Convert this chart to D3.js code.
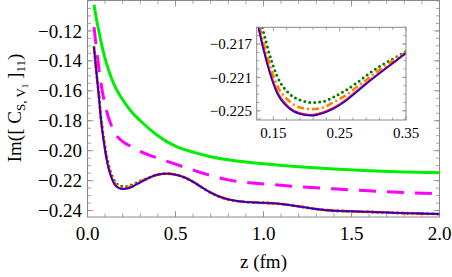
<!DOCTYPE html>
<html>
<head>
<meta charset="utf-8">
<script src="https://cdnjs.cloudflare.com/ajax/libs/d3/7.8.5/d3.min.js"></script>
<style>
  body { margin: 0; background: #fff; }
</style>
</head>
<body>
<div id="chart"></div>
<script>
// Data

// bright green solid curve
var zGreen = [0.037, 0.05, 0.065, 0.08, 0.1, 0.125, 0.15, 0.2, 0.25, 0.3, 0.4, 0.5, 0.6, 0.7, 0.8, 0.9, 1.0, 1.2, 1.4, 1.6, 1.8, 2.0];
var vGreen = [-0.1025, -0.1115, -0.1205, -0.1290, -0.1385, -0.1480, -0.1555, -0.1660, -0.1740, -0.1800, -0.1900, -0.1970, -0.2010, -0.2040, -0.2060, -0.2075, -0.2088, -0.2107, -0.2122, -0.2134, -0.2142, -0.2148];

// magenta dashed curve
var zMagenta = [0.037, 0.05, 0.065, 0.08, 0.1, 0.13, 0.16, 0.2, 0.25, 0.3, 0.4, 0.5, 0.6, 0.7, 0.8, 0.9, 1.0, 1.2, 1.4, 1.6, 1.8, 2.0];
var vMagenta = [-0.1175, -0.1310, -0.1455, -0.1575, -0.1695, -0.1815, -0.1890, -0.1940, -0.1972, -0.2005, -0.2050, -0.2090, -0.2130, -0.2166, -0.2195, -0.2212, -0.2222, -0.2240, -0.2255, -0.2268, -0.2279, -0.2288];

// the four nearly coincident curves share one z grid
var zGrid = [0.037, 0.045, 0.055, 0.065, 0.075, 0.085, 0.095, 0.105, 0.115, 0.1274, 0.14, 0.155, 0.175, 0.19, 0.2075, 0.225, 0.24, 0.26, 0.275, 0.29, 0.31, 0.33, 0.35,
             0.4, 0.45, 0.5, 0.55, 0.6, 0.65, 0.7, 0.75, 0.8, 0.85, 0.9, 1.0, 1.1, 1.2, 1.3, 1.4, 1.5, 1.6, 1.7, 1.8, 1.9, 2.0];
var tail = [-0.2160, -0.2153, -0.2160, -0.2178, -0.2208, -0.2245, -0.2280, -0.2307, -0.2325, -0.2336, -0.2343, -0.2348, -0.2356, -0.2372, -0.2390, -0.2401, -0.2405, -0.2409, -0.2413, -0.2417, -0.2420, -0.2423];
var vBlue = [-0.1310, -0.1410, -0.1530, -0.1640, -0.1775, -0.1875, -0.1960, -0.2035, -0.2095, -0.2150, -0.2192, -0.2228, -0.2248, -0.2254, -0.2256, -0.2253, -0.2248, -0.2238, -0.2228, -0.2218, -0.2205, -0.2193, -0.2181].concat(tail);
var vRed = [-0.1310, -0.1410, -0.1530, -0.1640, -0.1775, -0.1875, -0.1958, -0.2032, -0.2092, -0.2148, -0.2190, -0.2226, -0.2247, -0.2253, -0.2255, -0.2252, -0.2247, -0.2237, -0.2227, -0.2217, -0.2205, -0.2193, -0.2181].concat(tail);
var vOrange = [-0.1310, -0.1405, -0.1525, -0.1635, -0.1770, -0.1868, -0.1952, -0.2025, -0.2085, -0.2142, -0.2182, -0.2218, -0.2239, -0.2246, -0.2248, -0.2246, -0.2240, -0.2231, -0.2222, -0.2213, -0.2201, -0.2190, -0.2180].concat(tail);
var vDkGreen = [-0.1310, -0.1400, -0.1518, -0.1625, -0.1760, -0.1855, -0.1938, -0.2010, -0.2068, -0.2128, -0.2170, -0.2207, -0.2230, -0.2237, -0.2240, -0.2239, -0.2234, -0.2225, -0.2217, -0.2208, -0.2197, -0.2188, -0.2179].concat(tail);

// tick labels
var xTicks = [0.0, 0.5, 1.0, 1.5, 2.0];
var yTicks = [-0.24, -0.22, -0.20, -0.18, -0.16, -0.14, -0.12];
var xInsetTicks = [0.15, 0.25, 0.35];
var yInsetTicks = [-0.225, -0.221, -0.217];

var width = 452, height = 277;
var frameColor = '#8a8a8a';
var serif = '"Liberation Serif", "Times New Roman", serif';

var svg = d3.select('#chart').append('svg')
    .attr('width', width)
    .attr('height', height)
    .style('font-family', serif);

// Main scales
var x = d3.scaleLinear().domain([0, 2]).range([87.5, 439.5]);
var y = d3.scaleLinear().domain([-0.2443, -0.0997]).range([217, 0.5]);

svg.append('clipPath').attr('id', 'clipMain')
    .append('rect')
    .attr('x', x(0)).attr('y', y(-0.0997))
    .attr('width', x(2) - x(0)).attr('height', y(-0.2443) - y(-0.0997));

// Function to draw frame ticks on all four sides
function drawTicks(g, xs, ys, majorX, minorX, majorY, minorY, lenMaj, lenMin) {
    var x0 = xs.range()[0], x1 = xs.range()[1];
    var y0 = ys.range()[0], y1 = ys.range()[1];
    [[minorX, lenMin], [majorX, lenMaj]].forEach(function(s) {
        s[0].forEach(function(t) {
            g.append('line').attr('x1', xs(t)).attr('x2', xs(t)).attr('y1', y0).attr('y2', y0 - s[1]);
            g.append('line').attr('x1', xs(t)).attr('x2', xs(t)).attr('y1', y1).attr('y2', y1 + s[1]);
        });
    });
    [[minorY, lenMin], [majorY, lenMaj]].forEach(function(s) {
        s[0].forEach(function(t) {
            g.append('line').attr('y1', ys(t)).attr('y2', ys(t)).attr('x1', x0).attr('x2', x0 + s[1]);
            g.append('line').attr('y1', ys(t)).attr('y2', ys(t)).attr('x1', x1).attr('x2', x1 - s[1]);
        });
    });
    g.selectAll('line').attr('stroke', frameColor).attr('stroke-width', 0.8);
    g.append('rect')
        .attr('x', x0).attr('y', y1)
        .attr('width', x1 - x0).attr('height', y0 - y1)
        .attr('fill', 'none').attr('stroke', frameColor).attr('stroke-width', 1);
}

function range(a, b, step) {
    var out = [];
    for (var v = a; v <= b + 1e-9; v += step) out.push(+v.toFixed(4));
    return out;
}

// Main frame with ticks
drawTicks(svg.append('g'), x, y,
    xTicks, range(0.1, 1.9, 0.1),
    yTicks, range(-0.24, -0.10, 0.005),
    6, 3.5);

// Line generators
var line = d3.line()
    .x(function(d) { return x(d[0]); })
    .y(function(d) { return y(d[1]); })
    .curve(d3.curveMonotoneX);

function pairs(zs, vs) { return zs.map(function(z, i) { return [z, vs[i]]; }); }

// drawing order: dotted green under the others, blue on top
var series = [
    {z: zGreen,   v: vGreen,   color: '#00ee00', w: 3,   dash: null},
    {z: zMagenta, v: vMagenta, color: '#ff00ff', w: 3,   dash: '17,11'},
    {z: zGrid,    v: vDkGreen, color: '#007a00', w: 3,   dash: '0,5', cap: 'round'},
    {z: zGrid,    v: vOrange,  color: '#ff8000', w: 2.6, dash: '7,3,2,3'},
    {z: zGrid,    v: vRed,     color: '#ff0000', w: 2.2, dash: null},
    {z: zGrid,    v: vBlue,    color: '#0000ff', w: 1.4, dash: null}
];

var gMain = svg.append('g').attr('clip-path', 'url(#clipMain)');
series.forEach(function(s) {
    gMain.append('path')
        .attr('d', line(pairs(s.z, s.v)))
        .attr('fill', 'none')
        .attr('stroke', s.color)
        .attr('stroke-width', s.w)
        .attr('stroke-dasharray', s.dash)
        .attr('stroke-linecap', s.cap || 'butt');
});

// Main tick labels
var fmt2 = d3.format('.2f');
svg.append('g').selectAll('text').data(yTicks).enter().append('text')
    .attr('x', 82).attr('y', function(d) { return y(d); })
    .attr('dy', '0.35em')
    .attr('text-anchor', 'end')
    .style('font-size', '19px')
    .text(function(d) { return fmt2(d).replace('-', '\u2212'); });

svg.append('g').selectAll('text').data(xTicks).enter().append('text')
    .attr('x', function(d) { return x(d); }).attr('y', 240)
    .attr('text-anchor', 'middle')
    .style('font-size', '19px')
    .text(function(d) { return d3.format('.1f')(d); });

// Axis titles
svg.append('text')
    .attr('x', (x(0) + x(2)) / 2).attr('y', 268)
    .attr('text-anchor', 'middle')
    .style('font-size', '19px')
    .text('z (fm)');

var yTitle = svg.append('text')
    .attr('transform', 'translate(' + 21 + ',' + 108 + ') rotate(-90)')
    .attr('text-anchor', 'middle')
    .style('font-size', '19px');
yTitle.append('tspan').text('Im([ C');
yTitle.append('tspan').attr('dy', 4).style('font-size', '13px').text('S, V');
yTitle.append('tspan').attr('dy', 3).style('font-size', '9px').text('1');
yTitle.append('tspan').attr('dy', -7).text(' ]');
yTitle.append('tspan').attr('dy', 4).style('font-size', '13px').text('11');
yTitle.append('tspan').attr('dy', -4).text(')');

// Inset
var xi = d3.scaleLinear().domain([0.125, 0.35]).range([256.7, 406]);
var yi = d3.scaleLinear().domain([-0.2261, -0.215]).range([120, 27.3]);

svg.append('clipPath').attr('id', 'clipInset')
    .append('rect')
    .attr('x', xi(0.125)).attr('y', yi(-0.215))
    .attr('width', xi(0.35) - xi(0.125)).attr('height', yi(-0.2261) - yi(-0.215));

svg.append('rect')
    .attr('x', xi(0.125)).attr('y', yi(-0.215))
    .attr('width', xi(0.35) - xi(0.125)).attr('height', yi(-0.2261) - yi(-0.215))
    .attr('fill', '#fff');

var lineInset = d3.line()
    .x(function(d) { return xi(d[0]); })
    .y(function(d) { return yi(d[1]); })
    .curve(d3.curveMonotoneX);

var gInset = svg.append('g').attr('clip-path', 'url(#clipInset)');
series.slice(2).forEach(function(s) {
    gInset.append('path')
        .attr('d', lineInset(pairs(s.z, s.v)))
        .attr('fill', 'none')
        .attr('stroke', s.color)
        .attr('stroke-width', s.w)
        .attr('stroke-dasharray', s.dash)
        .attr('stroke-linecap', s.cap || 'butt');
});

drawTicks(svg.append('g'), xi, yi,
    xInsetTicks, [0.13, 0.17, 0.19, 0.21, 0.23, 0.27, 0.29, 0.31, 0.33],
    yInsetTicks, range(-0.226, -0.215, 0.001),
    4, 2.5);

svg.append('g').selectAll('text').data(yInsetTicks).enter().append('text')
    .attr('x', 252).attr('y', function(d) { return yi(d); })
    .attr('dy', '0.35em')
    .attr('text-anchor', 'end')
    .style('font-size', '15px')
    .text(function(d) { return d3.format('.3f')(d).replace('-', '\u2212'); });

svg.append('g').selectAll('text').data(xInsetTicks).enter().append('text')
    .attr('x', function(d) { return xi(d); }).attr('y', 138)
    .attr('text-anchor', 'middle')
    .style('font-size', '15px')
    .text(function(d) { return d3.format('.2f')(d); });
</script>
</body>
</html>
